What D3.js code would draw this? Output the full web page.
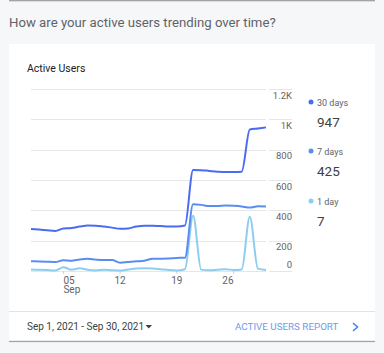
<!DOCTYPE html>
<html><head><meta charset="utf-8">
<script src="https://cdn.jsdelivr.net/npm/d3@7"></script>
<style>
body{margin:0;background:#f6f7f9;font-family:Roboto,"Noto Sans",sans-serif;}
svg{display:block}
</style>
</head><body>
<svg id="c" width="384" height="353"></svg>
<script>
// ---- data ----
const days = [1,2,3,4,5,6,7,8,9,10,11,12,13,14,15,16,17,18,19,20,21,22,23,24,25,26,27,28,29,30];
const thirtyDay = [277,273,268,264,281,284,293,300,299,293,286,278,281,293,299,298,296,294,294,300,666,665,660,655,652,652,655,933,940,947];
const sevenDay  = [65,63,61,59,71,68,76,80,75,72,72,55,60,64,68,80,81,83,86,88,440,436,428,428,432,430,426,418,427,425];
const oneDay    = [10,8,6,4,25,8,18,8,4,8,5,3,10,16,18,17,12,6,4,12,365,9,5,8,12,6,10,358,16,7];
const xTickDays = [5,12,19,26];
const xTickLabels = ["05","12","19","26"];
const monthLabel = "Sep";
const yTicks = [1200,1000,800,600,400,200,0];
const yTickLabels = ["1.2K","1K","800","600","400","200","0"];
const seriesNames = ["30 days","7 days","1 day"];
const seriesColors = ["#4a6cf0","#5a8df0","#8ccdf0"];
const seriesLatest = [947,425,7];
const titleText = "How are your active users trending over time?";
const cardTitle = "Active Users";
const dateRange = "Sep 1, 2021 - Sep 30, 2021";
const linkText = "ACTIVE USERS REPORT";

// ---- drawing ----
const svg = d3.select("#c");
const series = [thirtyDay, sevenDay, oneDay];

// previous card bottom edge
svg.append("rect").attr("x",9).attr("y",-6).attr("width",366).attr("height",6).attr("fill","#fff");
svg.append("rect").attr("x",9).attr("y",0).attr("width",366).attr("height",1.3).attr("fill","#a0a4a8");

svg.append("text").attr("x",9).attr("y",27.3).attr("font-size","13.2px").attr("fill","#5f6368").text(titleText);

// card
svg.append("rect").attr("x",9).attr("y",44).attr("width",366).attr("height",297).attr("fill","#fff");
svg.append("rect").attr("x",9).attr("y",340.8).attr("width",366).attr("height",1.3).attr("fill","#a0a4a8");
svg.append("rect").attr("x",9).attr("y",311).attr("width",366).attr("height",1).attr("fill","#e3e3e3");

svg.append("text").attr("x",27).attr("y",72.3).attr("font-size","10.5px").attr("fill","#202124").text(cardTitle);

const x = d3.scaleLinear().domain([days[0], days[days.length-1]]).range([31,266]);
const y = d3.scaleLinear().domain([0,1200]).range([271,89]);

// gridlines
const grid = svg.append("g");
yTicks.forEach((t,i)=>{
  grid.append("line").attr("x1",31).attr("x2",266).attr("y1",Math.round(y(t))+0.5).attr("y2",Math.round(y(t))+0.5)
    .attr("stroke","#e6e6e6").attr("stroke-width",1);
  grid.append("line").attr("x1",269).attr("x2",292).attr("y1",Math.round(y(t))+0.5).attr("y2",Math.round(y(t))+0.5)
    .attr("stroke","#e6e6e6").attr("stroke-width",1);
  grid.append("text").attr("x",292).attr("y", t===0 ? y(t)-3 : y(t)+9.5)
    .attr("text-anchor","end").attr("font-size","9.5px").attr("fill","#5f6368").text(yTickLabels[i]);
});

// x ticks
xTickDays.forEach((d,i)=>{
  const anchor = i===0 ? "start" : (i===xTickDays.length-1 ? "end" : "middle");
  svg.append("line").attr("x1",x(d)).attr("x2",x(d)).attr("y1",271).attr("y2",274)
    .attr("stroke","#d0d0d0");
  svg.append("text").attr("x",x(d)).attr("y",283.5).attr("text-anchor",anchor)
    .attr("font-size","10px").attr("fill","#5f6368").text(xTickLabels[i]);
});
svg.append("text").attr("x",x(xTickDays[0])).attr("y",293).attr("font-size","10px").attr("fill","#5f6368").text(monthLabel);

// lines (draw 1 day first so darker lines stay on top)
const line = d3.line().x((d,i)=>x(days[i])).y(d=>y(d)).curve(d3.curveMonotoneX);
[2,1,0].forEach(k=>{
  svg.append("path").datum(series[k]).attr("d",line).attr("fill","none")
    .attr("stroke",seriesColors[k]).attr("stroke-width",2).attr("stroke-linejoin","round");
});

// legend
const legendY = [102,151,201];
seriesNames.forEach((n,i)=>{
  svg.append("circle").attr("cx",311).attr("cy",legendY[i]).attr("r",2.5).attr("fill",seriesColors[i]);
  svg.append("text").attr("x",317).attr("y",legendY[i]+3.5).attr("font-size","9px").attr("fill","#5f6368").text(n);
  svg.append("text").attr("x",317).attr("y",legendY[i]+25).attr("font-size","13.5px").attr("fill","#3c4043").text(seriesLatest[i]);
});

// footer
svg.append("text").attr("x",27).attr("y",329.5).attr("font-size","10px").attr("fill","#3c4043").text(dateRange);
svg.append("path").attr("d","M145.5,325 L152,325 L148.75,328.5 Z").attr("fill","#3c4043");
svg.append("text").attr("x",235).attr("y",329.5).attr("font-size","9.8px").attr("fill","#6f9be8").text(linkText);
svg.append("path").attr("d","M353,323 L357.5,327 L353,331").attr("fill","none").attr("stroke","#4a86e8").attr("stroke-width",1.6);
</script>
</body></html>
